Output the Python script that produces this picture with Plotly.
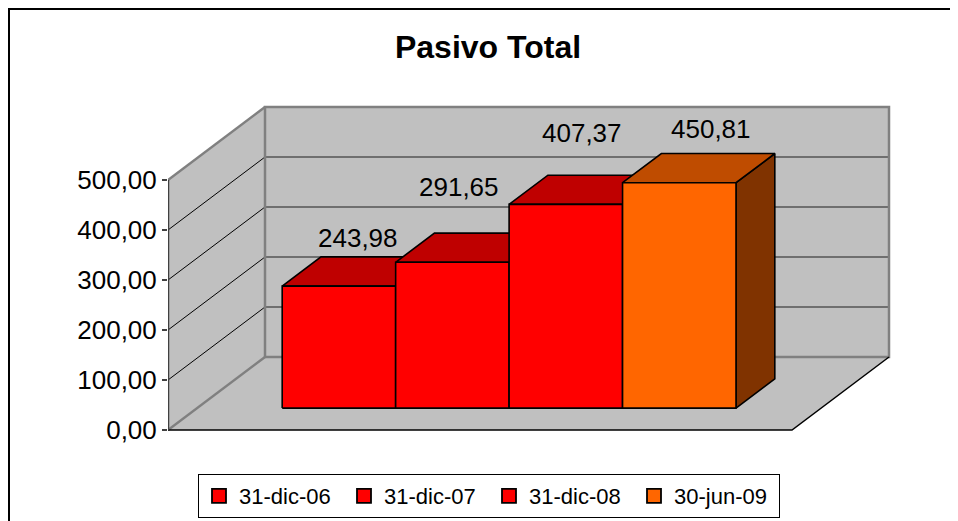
import plotly.graph_objects as go

# ---------------- data ----------------
TITLE = "Pasivo Total"
SERIES = ["31-dic-06", "31-dic-07", "31-dic-08", "30-jun-09"]
VALUES = [243.98, 291.65, 407.37, 450.81]
Y_TICKS = [0, 100, 200, 300, 400, 500]

# ---------------- styles ----------------
FRONT = ["#FF0000", "#FF0000", "#FF0000", "#FF6600"]
TOP = ["#BF0000", "#BF0000", "#BF0000", "#BF4C00"]
SIDE = ["#800000", "#800000", "#800000", "#803300"]
LABEL_SHIFT = [(0, 34), (-13, 61), (-3, 57), (12, 39)]  # (px right, px up)
FONT = "Liberation Sans, Arial, sans-serif"

PAGE_PAD = 8                      # browser body margin
FIG_W, FIG_H = 958 - PAGE_PAD, 521 - PAGE_PAD
ML = 168 - PAGE_PAD
PLOT_W = FIG_W - ML
FLOOR_W = 624.0      # x units (1 unit = 1 px)
DEPTH_DX = 97.0      # x shift of full depth
DEPTH_DV = 146.0     # value-unit shift of full depth
VMAX = 500
GAP_WIDTH = 1.5
GAP_DEPTH = 1.5
PX_PER_V = 0.5
ZERO_PY = 430 - PAGE_PAD


def proj(x, d, v):
    return x + d * DEPTH_DX, v + d * DEPTH_DV


fig = go.Figure()


def poly(points, fill):
    pts = [proj(*p) for p in points]
    pts.append(pts[0])
    fig.add_trace(go.Scatter(
        x=[p[0] for p in pts], y=[p[1] for p in pts], mode="lines",
        fill="toself", fillcolor=fill, line=dict(color=fill, width=0),
        hoverinfo="skip", showlegend=False))


def path(points, color, width, close=False):
    pts = [proj(*p) for p in points]
    if close:
        pts.append(pts[0])
    fig.add_trace(go.Scatter(
        x=[p[0] for p in pts], y=[p[1] for p in pts], mode="lines",
        line=dict(color=color, width=width), hoverinfo="skip", showlegend=False))


W = FLOOR_W
WALL = "#C0C0C0"
EDGE = "#808080"

# walls and floor
poly([(0, 1, 0), (W, 1, 0), (W, 1, VMAX), (0, 1, VMAX)], WALL)
poly([(0, 0, 0), (0, 1, 0), (0, 1, VMAX), (0, 0, VMAX)], WALL)
poly([(0, 0, 0), (W, 0, 0), (W, 1, 0), (0, 1, 0)], WALL)

# gridlines
for v in Y_TICKS[1:-1]:
    path([(0, 1, v), (W, 1, v)], "#555555", 1.6)
    path([(0, 0, v), (0, 1, v)], "#000000", 1)

# wall edges
path([(0, 1, 0), (W, 1, 0), (W, 1, VMAX), (0, 1, VMAX)], EDGE, 2.5, close=True)
path([(0, 0, VMAX), (0, 1, VMAX)], EDGE, 2.5)
path([(0, 0, 0), (0, 1, 0)], EDGE, 2.5)
# floor front / right edges
path([(0, 0, 0), (W, 0, 0), (W, 1, 0)], "#000000", 1.5)
# value axis line
path([(0, 0, 0), (0, 0, VMAX)], "#404040", 2.5)

# bars
n = len(VALUES)
bw = FLOOR_W / (n + GAP_WIDTH)
bd = 1.0 / (1.0 + GAP_DEPTH)
d0 = (1 - bd) / 2
d1 = d0 + bd
annotations = []
for i, v in enumerate(VALUES):
    x0 = (GAP_WIDTH / 2 + i) * bw
    x1 = x0 + bw
    side = [(x1, d0, 0), (x1, d1, 0), (x1, d1, v), (x1, d0, v)]
    top = [(x0, d0, v), (x1, d0, v), (x1, d1, v), (x0, d1, v)]
    front = [(x0, d0, 0), (x1, d0, 0), (x1, d0, v), (x0, d0, v)]
    poly(side, SIDE[i])
    path(side, "#000000", 1.6, close=True)
    poly(top, TOP[i])
    path(top, "#000000", 1.6, close=True)
    poly(front, FRONT[i])
    path(front, "#000000", 1.6, close=True)
    lx, ly = proj((x0 + x1) / 2, 0.5, v)
    sx, sy = LABEL_SHIFT[i]
    annotations.append(dict(
        x=lx, y=ly, xref="x", yref="y", text=f"{v:.2f}".replace(".", ","),
        showarrow=False, xshift=sx, yshift=sy, xanchor="center", yanchor="middle",
        font=dict(family=FONT, size=26, color="#000000")))

# legend entries
for i, name in enumerate(SERIES):
    fig.add_trace(go.Scatter(
        x=[None], y=[None], mode="markers", name=name,
        marker=dict(symbol="square", size=14, color=FRONT[i],
                    line=dict(color="#000000", width=1.8)),
        hoverinfo="skip", showlegend=True))

fig.update_layout(
    width=FIG_W, height=FIG_H,
    margin=dict(l=ML, r=0, t=0, b=0, autoexpand=False),
    paper_bgcolor="white", plot_bgcolor="white",
    separators=",.",
    font=dict(family=FONT, color="#000000"),
    title=dict(text=f"<b>{TITLE}</b>", x=(488 - PAGE_PAD) / FIG_W, xref="container",
               y=1 - (47 - PAGE_PAD) / FIG_H, yref="container",
               xanchor="center", yanchor="middle",
               font=dict(family=FONT, size=32, color="#000000")),
    xaxis=dict(range=[0, PLOT_W], visible=False, fixedrange=True),
    yaxis=dict(range=[(ZERO_PY - FIG_H) / PX_PER_V, ZERO_PY / PX_PER_V],
               tickvals=Y_TICKS, tickformat=".2f", ticks="outside", ticklen=5,
               tickwidth=1.5, tickcolor="#404040", showgrid=False, zeroline=False,
               showline=False, tickfont=dict(family=FONT, size=26, color="#000000"),
               fixedrange=True),
    legend=dict(orientation="h", xref="container", yref="container",
                x=(198 - PAGE_PAD) / FIG_W, y=1 - (474 - PAGE_PAD) / FIG_H,
                xanchor="left", yanchor="top",
                bordercolor="#000000", borderwidth=1, bgcolor="white",
                font=dict(family=FONT, size=22, color="#000000"),
                entrywidth=100, entrywidthmode="pixels", itemwidth=30,
                traceorder="normal"),
    shapes=[dict(type="rect", xref="paper", yref="paper",
                 x0=(9 - PAGE_PAD - ML) / PLOT_W, x1=(FIG_W + 20 - ML) / PLOT_W,
                 y0=-0.1, y1=1 - (9 - PAGE_PAD) / FIG_H,
                 line=dict(color="#000000", width=2), fillcolor="rgba(0,0,0,0)")],
    annotations=annotations,
    showlegend=True,
)

fig.write_html("out.html")
